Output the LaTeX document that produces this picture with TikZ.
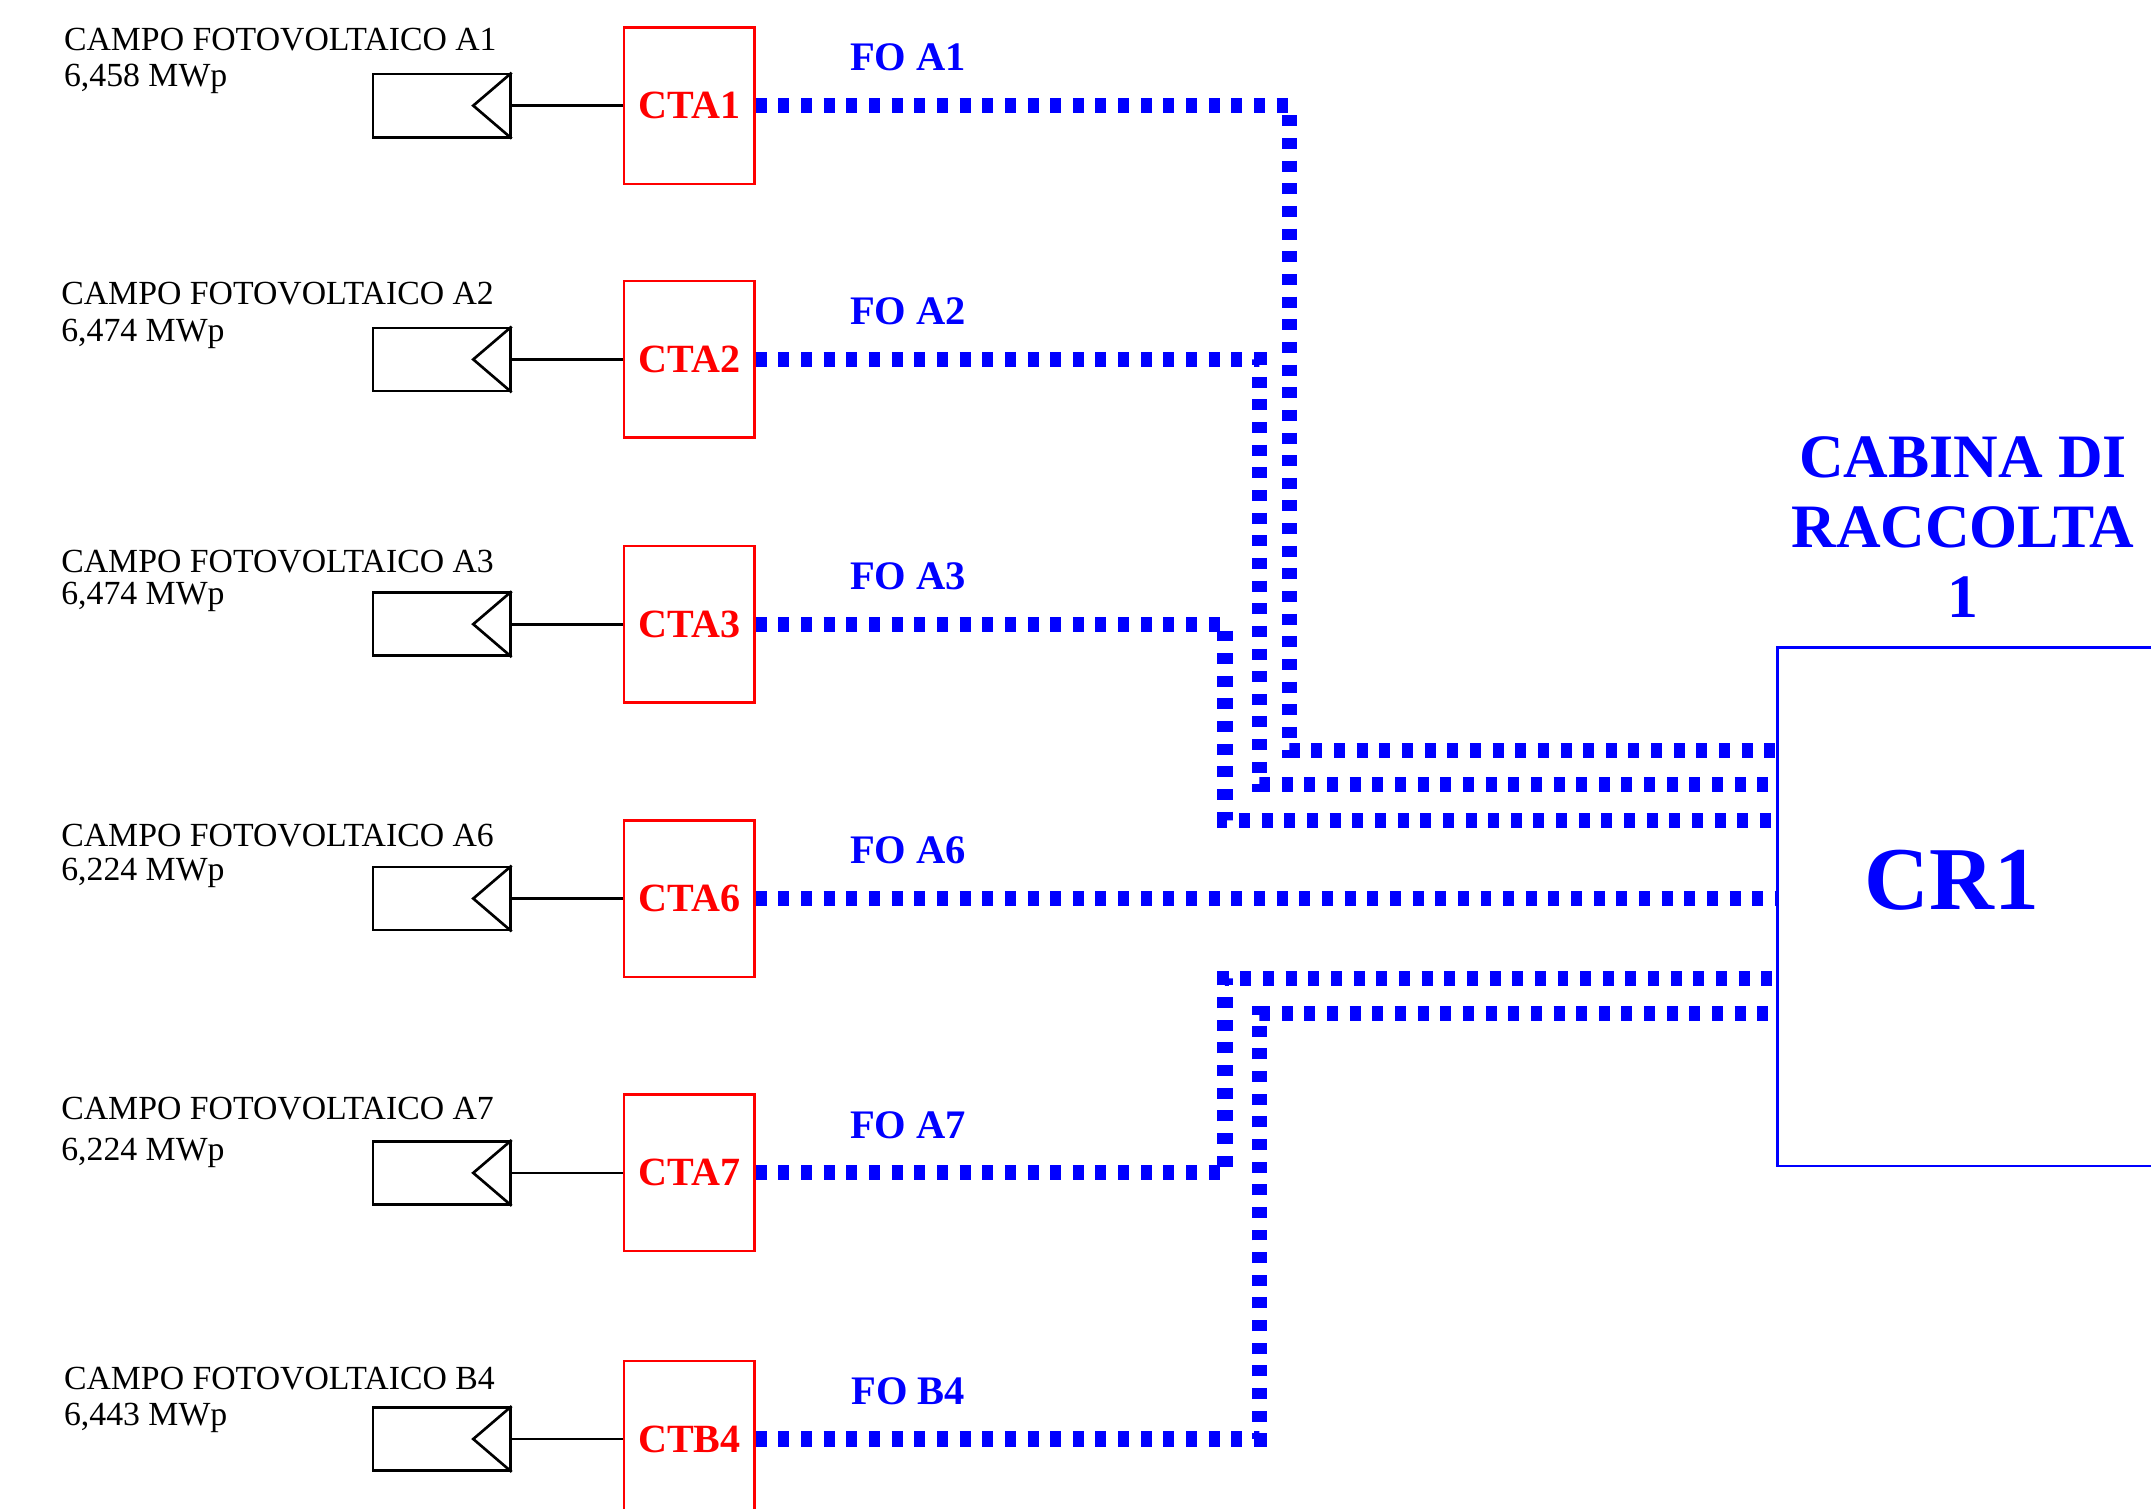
\documentclass[tikz,border=0pt]{standalone}
\usepackage{fontspec}
\setmainfont{Liberation Serif}
\definecolor{fob}{RGB}{0,0,255}
\definecolor{ctr}{RGB}{255,0,0}
\begin{document}
\begin{tikzpicture}[x=0.01cm,y=-0.01cm,
  lbl/.style={anchor=base west,inner sep=0pt,font=\fontsize{7}{7.6}\selectfont},
  panel/.style={draw=black,line width=0.55pt,minimum width=1cm,minimum height=0.46cm,inner sep=0pt},
  ctbox/.style={draw=ctr,line width=0.5pt,minimum width=0.95cm,minimum height=1.14cm,inner sep=0pt,text=ctr,font=\fontsize{8.3}{9}\selectfont\bfseries},
  folbl/.style={inner sep=0pt,text=fob,font=\fontsize{8.4}{9}\selectfont\bfseries},
  fo/.style={draw=fob,line width=0.11cm,dash pattern=on 0.08cm off 0.085cm},
  wire/.style={draw=black,line width=0.55pt}]
\useasboundingbox (0,0) rectangle (1568,1100);
\clip (0,0) rectangle (1568,1100);

% CR1
\node[draw=fob,line width=0.5pt,minimum width=4cm,minimum height=3.78cm,anchor=north west,inner sep=0pt] (cr1) at (1295,471) {};
\node[inner sep=0pt,text=fob,font=\fontsize{18.6}{20}\selectfont\bfseries] (cr1t) at (1423,642) {CR1};
\node[inner sep=0pt,text=fob,align=center,font=\fontsize{12.8}{14.5}\selectfont\bfseries] (cabina) at (1431,384) {CABINA DI\\RACCOLTA\\1};

% entry points on CR1
\coordinate (in1) at (1295,547);
\coordinate (in2) at (1295,572);
\coordinate (in3) at (1295,598);
\coordinate (in4) at (1295,655);
\coordinate (in5) at (1295,713);
\coordinate (in6) at (1295,739);
\coordinate (b1) at (940,547);
\coordinate (b2) at (918,572);
\coordinate (b3) at (893,598);
\coordinate (b5) at (893,713);
\coordinate (b6) at (918,739);

% rows
\foreach \i/\y/\ya/\yb/\xl/\name/\pw/\ct/\fo in {
  1/77/37/63/46/A1/{6,458}/CTA1/FO A1,
  2/262/222/249/44/A2/{6,474}/CTA2/FO A2,
  3/455/417/441/44/A3/{6,474}/CTA3/FO A3,
  4/655/617/642/44/A6/{6,224}/CTA6/FO A6,
  5/855/816/846/44/A7/{6,224}/CTA7/FO A7,
  6/1049/1013/1039/46/B4/{6,443}/CTB4/FO B4}{
  \node[lbl] (la\i) at (\xl,\ya) {CAMPO FOTOVOLTAICO \name};
  \node[lbl] (lb\i) at (\xl,\yb) {\pw{} MWp};
  \node[panel] (p\i) at (322,\y) {};
  \draw[wire] (p\i.north east) -- ([xshift=-0.28cm]p\i.east) -- (p\i.south east);
  \node[ctbox] (ct\i) at (502.5,\y) {\ct};
  \draw[wire] (p\i.east) -- (ct\i.west);
  \node[folbl] (fo\i) at (662,\y-35) {\fo};
}

% fibre connectors
\draw[fo] (ct1.east) -| (b1) -- (in1);
\draw[fo] (ct2.east) -| (b2) -- (in2);
\draw[fo] (ct3.east) -| (b3) -- (in3);
\draw[fo] (ct4.east) -- (in4);
\draw[fo] (ct5.east) -| (b5) -- (in5);
\draw[fo] (ct6.east) -| (b6) -- (in6);
\end{tikzpicture}
\end{document}
